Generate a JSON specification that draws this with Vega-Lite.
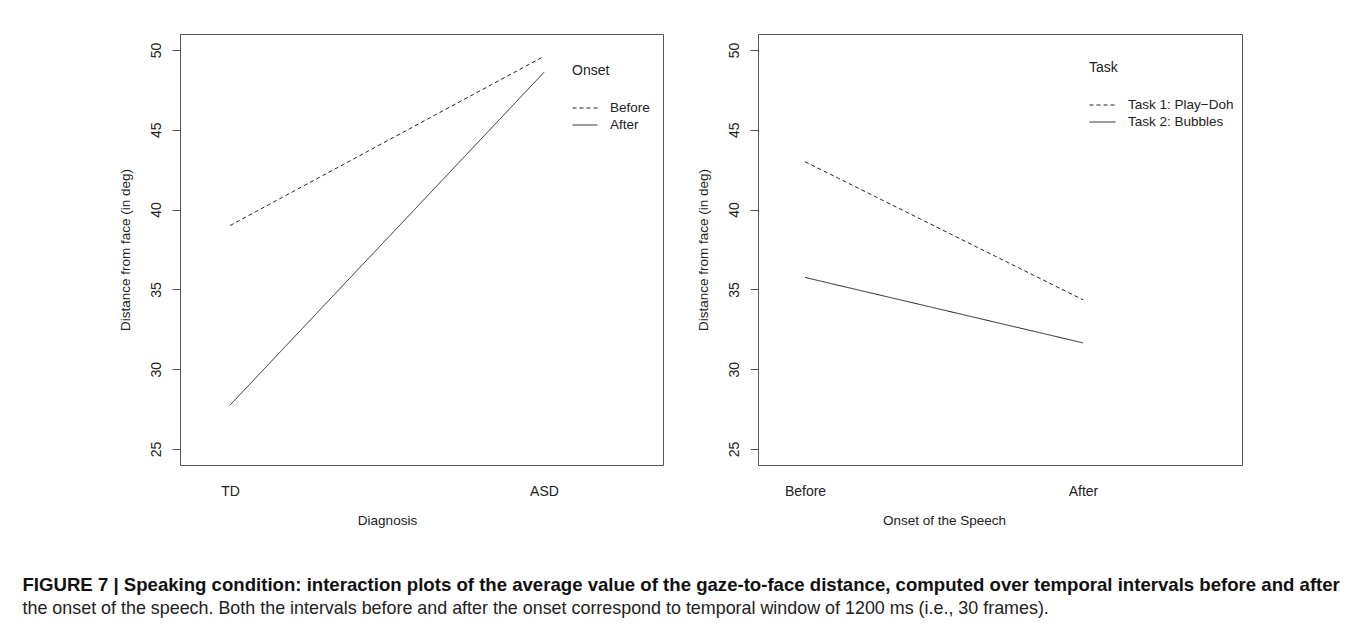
{
  "$schema": "https://vega.github.io/schema/vega-lite/v6.json",
  "padding": {"left": 22, "top": 33, "right": 5, "bottom": 5},
  "background": "white",
  "config": {
    "font": "Liberation Sans",
    "view": {"stroke": "#555", "strokeWidth": 1},
    "axis": {"grid": false, "labelFont": "Liberation Sans", "titleFont": "Liberation Sans", "labelColor": "#222", "titleColor": "#222", "titleFontWeight": "normal", "tickColor": "#555"},
    "legend": {"padding": 0, "titleFont": "Liberation Sans", "labelFont": "Liberation Sans", "titleFontWeight": "normal", "titleColor": "#222", "labelColor": "#222", "titleFontSize": 14, "labelFontSize": 13.5, "symbolType": "stroke", "symbolStrokeWidth": 1, "symbolStrokeColor": "#222", "titlePadding": 21.5, "rowPadding": 0, "clipHeight": 17, "labelOffset": 12}
  },
  "title": {
    "text": "FIGURE 7 | Speaking condition: interaction plots of the average value of the gaze-to-face distance, computed over temporal intervals before and after",
    "subtitle": "the onset of the speech. Both the intervals before and after the onset correspond to temporal window of 1200 ms (i.e., 30 frames).",
    "orient": "bottom",
    "anchor": "start",
    "dx": -95,
    "offset": 49,
    "font": "Liberation Sans",
    "subtitleFont": "Liberation Sans",
    "fontSize": 18.6,
    "fontWeight": "bold",
    "color": "#111",
    "subtitleFontSize": 17.9,
    "subtitleColor": "#222",
    "subtitlePadding": 5
  },
  "spacing": 31,
  "resolve": {"scale": {"strokeDash": "independent", "x": "independent", "y": "independent"}, "legend": {"strokeDash": "independent"}},
  "hconcat": [
    {
      "width": 483,
      "height": 431,
      "data": {"values": [
        {"diagnosis": "TD", "onset": "Before", "distance": 39.0},
        {"diagnosis": "ASD", "onset": "Before", "distance": 49.6},
        {"diagnosis": "TD", "onset": "After", "distance": 27.75},
        {"diagnosis": "ASD", "onset": "After", "distance": 48.6}
      ]},
      "mark": {"type": "line", "color": "#222", "strokeWidth": 1},
      "encoding": {
        "x": {"field": "diagnosis", "type": "nominal", "sort": ["TD", "ASD"],
          "scale": {"type": "point", "domain": ["TD", "ASD"], "range": [50, 364], "padding": 0},
          "axis": {"title": "Diagnosis", "labelAngle": 0, "ticks": false, "domain": false, "labelPadding": 19, "labelFontSize": 14, "titleFontSize": 13.5, "titlePadding": 15}},
        "y": {"field": "distance", "type": "quantitative",
          "scale": {"domain": [24, 51], "nice": false, "zero": false},
          "axis": {"title": "Distance from face (in deg)", "values": [25, 30, 35, 40, 45, 50], "tickSize": 8, "labelAngle": 270, "labelAlign": "center", "labelBaseline": "bottom", "labelPadding": 9, "labelFontSize": 14, "titleFontSize": 13.5, "titlePadding": 17, "domain": false}},
        "strokeDash": {"field": "onset", "type": "nominal",
          "scale": {"domain": ["Before", "After"], "range": [[4, 3], [1, 0]]},
          "legend": {"orient": "none", "legendX": 392, "legendY": 30, "title": "Onset", "symbolSize": 625}}
      }
    },
    {
      "width": 484,
      "height": 431,
      "data": {"values": [
        {"onset": "Before", "task": "Task 1: Play−Doh", "distance": 43.0},
        {"onset": "After", "task": "Task 1: Play−Doh", "distance": 34.35},
        {"onset": "Before", "task": "Task 2: Bubbles", "distance": 35.75},
        {"onset": "After", "task": "Task 2: Bubbles", "distance": 31.65}
      ]},
      "mark": {"type": "line", "color": "#222", "strokeWidth": 1},
      "encoding": {
        "x": {"field": "onset", "type": "nominal", "sort": ["Before", "After"],
          "scale": {"type": "point", "domain": ["Before", "After"], "range": [47, 325], "padding": 0},
          "axis": {"title": "Onset of the Speech", "labelAngle": 0, "ticks": false, "domain": false, "labelPadding": 19, "labelFontSize": 14, "titleFontSize": 13.5, "titlePadding": 15}},
        "y": {"field": "distance", "type": "quantitative",
          "scale": {"domain": [24, 51], "nice": false, "zero": false},
          "axis": {"title": "Distance from face (in deg)", "values": [25, 30, 35, 40, 45, 50], "tickSize": 8, "labelAngle": 270, "labelAlign": "center", "labelBaseline": "bottom", "labelPadding": 9, "labelFontSize": 14, "titleFontSize": 13.5, "titlePadding": 17, "domain": false}},
        "strokeDash": {"field": "task", "type": "nominal",
          "scale": {"domain": ["Task 1: Play−Doh", "Task 2: Bubbles"], "range": [[4, 3], [1, 0]]},
          "legend": {"orient": "none", "legendX": 331, "legendY": 27, "title": "Task", "symbolSize": 676}}
      }
    }
  ]
}
